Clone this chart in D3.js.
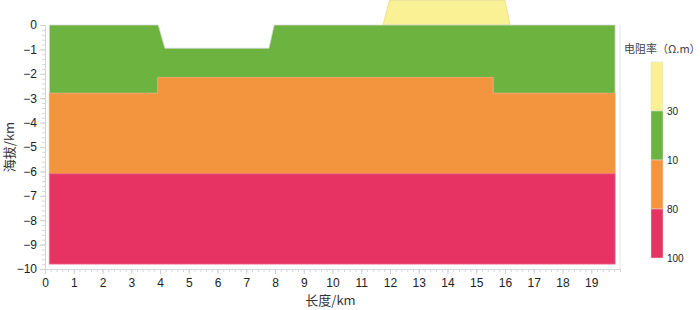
<!DOCTYPE html>
<html>
<head>
<meta charset="utf-8">
<script src="https://cdn.jsdelivr.net/npm/d3@7"></script>
<style>
  body { margin: 0; background: #fff; }
  svg { display: block; }
</style>
</head>
<body>
<div id="chart"></div>
<script>
// layer boundaries (km)
const topX = [0.15, 3.94, 4.17, 7.79, 7.97, 19.83];
const topY = [0, 0, -0.95, -0.95, 0, 0];
const midX = [0.15, 3.93, 3.93, 15.58, 15.58, 19.83];
const midY = [-2.8, -2.8, -2.15, -2.15, -2.8, -2.8];
const deepX = [0.15, 19.83];
const deepY = [-6.1, -6.1];
const baseX = [0.15, 19.83];
const baseY = [-9.8, -9.8];
const hillX = [11.76, 11.97, 16.0, 16.18];
const hillY = [0, 1, 1, 0];

// legend
const legendLabels = ["30", "10", "80", "100"];
const legendColors = ["#faf195", "#6db33f", "#f3943f", "#e63363"];

const xTicks = d3.range(0, 20, 1);
const yTicks = d3.range(0, -11, -1);

const width = 700, height = 310;
const margin = { top: 25, left: 45, right: 80, bottom: 41 };
const innerWidth = width - margin.left - margin.right;
const innerHeight = height - margin.top - margin.bottom;

const x = d3.scaleLinear().domain([0, 20]).range([0, innerWidth]);
const y = d3.scaleLinear().domain([-10, 0]).range([innerHeight, 0]);

const svg = d3.select("#chart").append("svg")
  .attr("width", width).attr("height", height);

const g = svg.append("g").attr("transform", `translate(${margin.left},${margin.top})`);

const pts = (xs, ys) => xs.map((d, i) => [x(d), y(ys[i])]);
const rev = (a) => a.slice().reverse();

const layers = [
  { color: legendColors[0], stroke: "#e9dd8c", p: pts(hillX, hillY) },
  { color: legendColors[1], stroke: "#d9d9d9", p: pts(topX, topY).concat(rev(pts(midX, midY))) },
  { color: legendColors[2], stroke: "#f0a060", p: pts(midX, midY).concat(rev(pts(deepX, deepY))) },
  { color: legendColors[3], stroke: "#eb6a8a", p: pts(deepX, deepY).concat(rev(pts(baseX, baseY))) }
];

g.selectAll("path.layer")
  .data(layers)
  .join("path")
  .attr("class", "layer")
  .attr("d", (d) => d3.line()(d.p) + "Z")
  .attr("fill", (d) => d.color)
  .attr("stroke", (d) => d.stroke)
  .attr("stroke-width", 0.8);

// frame right side
g.append("line")
  .attr("x1", x(20)).attr("x2", x(20))
  .attr("y1", y(0)).attr("y2", y(-10))
  .attr("stroke", "#e3e3e3");

// x axis
const xAxis = g.append("g")
  .attr("transform", `translate(0,${innerHeight})`);
xAxis.call(d3.axisBottom(x).tickValues(d3.range(0, 20.01, 0.2)).tickSize(3))
  .call((a) => {
    a.select(".domain").attr("stroke", "#d6d6d6");
    a.selectAll("line").attr("stroke", "#d6d6d6");
    a.selectAll("text").remove();
  });
xAxis.append("g")
  .call(d3.axisBottom(x).tickValues(xTicks).tickSize(5).tickPadding(4))
  .call((a) => {
    a.select(".domain").remove();
    a.selectAll("line").attr("stroke", "#cfcfcf");
    a.selectAll("text").attr("font-size", 12).attr("fill", "#222")
      .attr("font-family", "Liberation Sans, Arial, sans-serif");
  });

// y axis
const yAxis = g.append("g");
yAxis.call(d3.axisLeft(y).tickValues(d3.range(-10, 0.01, 0.2)).tickSize(3))
  .call((a) => {
    a.select(".domain").attr("stroke", "#d6d6d6");
    a.selectAll("line").attr("stroke", "#d6d6d6");
    a.selectAll("text").remove();
  });
yAxis.append("g")
  .call(d3.axisLeft(y).tickValues(yTicks).tickSize(5).tickPadding(3))
  .call((a) => {
    a.select(".domain").remove();
    a.selectAll("line").attr("stroke", "#cfcfcf");
    a.selectAll("text").attr("font-size", 12).attr("fill", "#222")
      .attr("font-family", "Liberation Sans, Arial, sans-serif");
  });

// axis titles
svg.append("text")
  .attr("x", margin.left + x(10) - 2)
  .attr("y", 305)
  .attr("text-anchor", "middle")
  .attr("font-size", 13)
  .attr("fill", "#333")
  .attr("font-family", "Noto Sans CJK SC, sans-serif")
  .text("长度/km");

svg.append("text")
  .attr("transform", `translate(8,${margin.top + y(-5)}) rotate(-90)`)
  .attr("text-anchor", "middle")
  .attr("dominant-baseline", "central")
  .attr("font-size", 13)
  .attr("fill", "#333")
  .attr("font-family", "Noto Sans CJK SC, sans-serif")
  .text("海拔/km");

// legend
const lg = svg.append("g").attr("transform", "translate(651,62)");
const segH = 49;
lg.selectAll("rect")
  .data(legendColors)
  .join("rect")
  .attr("x", 0)
  .attr("y", (d, i) => i * segH)
  .attr("width", 12)
  .attr("height", segH)
  .attr("fill", (d) => d)
  .attr("stroke", "#ddd")
  .attr("stroke-width", 0.5);

lg.selectAll("text")
  .data(legendLabels)
  .join("text")
  .attr("x", 16)
  .attr("y", (d, i) => (i + 1) * segH + 4)
  .attr("font-size", 10)
  .attr("fill", "#222")
  .attr("font-family", "Liberation Sans, Arial, sans-serif")
  .text((d) => d);

svg.append("text")
  .attr("x", 624)
  .attr("y", 53)
  .attr("font-size", 11)
  .attr("fill", "#444")
  .attr("font-family", "Noto Sans CJK SC, sans-serif")
  .text("电阻率（Ω.m）");
</script>
</body>
</html>
